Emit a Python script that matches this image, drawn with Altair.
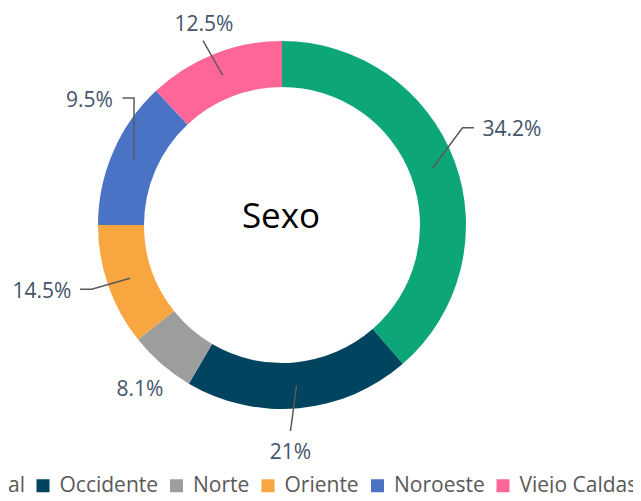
import altair as alt
import pandas as pd

# ---- data ----
regions = ["Central", "Occidente", "Norte", "Oriente", "Noroeste", "Viejo Caldas"]
# slice sizes as drawn in the picture (percent of the ring)
shares = [38.6, 19.85, 5.85, 10.7, 13.0, 12.0]
# label texts as printed on the chart
labels = ["34.2%", "21%", "8.1%", "14.5%", "9.5%", "12.5%"]
colors = ["#0CA678", "#00445F", "#9D9D9D", "#F8A640", "#4A73C6", "#FF6698"]

# ---- layout (Excel-style manual label placement, offsets from pie centre) ----
CX, CY = 274, 217
R_OUT, R_IN = 184, 138
label_dx = [230, 8.5, -142, -240, -192.5, -78]
label_dy = [-89, 234, 171, 73, -118, -194]
# leader polylines (offsets from pie centre), empty for no line
leaders = [
    [(150.5, -56.7), (180.5, -97.3), (192, -97.3)],
    [(14.5, 160.7), (8.5, 206)],
    [],
    [(-152, 53.3), (-190.3, 64.3), (-202, 64.3)],
    [(-148, -65), (-148, -127), (-159.5, -127)],
    [(-59.5, -150), (-79, -184.3)],
]

df = pd.DataFrame({"region": regions, "share": shares, "idx": range(len(regions))})

lab = pd.DataFrame({
    "label": labels,
    "lx": [CX + d for d in label_dx],
    "ly": [CY + d for d in label_dy],
})

rows = []
for i, pts in enumerate(leaders):
    for j, (dx, dy) in enumerate(pts):
        rows.append({"lid": i, "k": j, "px": CX + dx, "py": CY + dy})
lead = pd.DataFrame(rows)

arcs = alt.Chart(df).mark_arc(outerRadius=R_OUT, innerRadius=R_IN).encode(
    theta=alt.Theta("share:Q", stack=True),
    order=alt.Order("idx:Q"),
    color=alt.Color(
        "region:N",
        scale=alt.Scale(domain=regions, range=colors),
        sort=regions,
        legend=alt.Legend(
            orient="none", legendX=-81, legendY=467, direction="horizontal",
            title=None, symbolType="square", symbolSize=169, symbolStrokeWidth=0,
            labelFont="Open Sans", labelFontSize=21, labelColor="#595959",
            labelOffset=6, columnPadding=7.5, padding=0, labelLimit=300,
        ),
    ),
    x=alt.value(CX),
    y=alt.value(CY),
)

lines = alt.Chart(lead).mark_line(color="#595959", strokeWidth=1.5).encode(
    x=alt.X("px:Q", scale=None, axis=None),
    y=alt.Y("py:Q", scale=None, axis=None),
    detail="lid:N",
    order="k:Q",
)

texts = alt.Chart(lab).mark_text(
    font="Open Sans", fontSize=21, color="#44546A", align="center", baseline="alphabetic"
).encode(
    x=alt.X("lx:Q", scale=None, axis=None),
    y=alt.Y("ly:Q", scale=None, axis=None),
    text="label:N",
)

center = alt.Chart(pd.DataFrame({"t": ["Sexo"]})).mark_text(
    font="Open Sans", fontSize=35, color="#000000", align="center", baseline="alphabetic"
).encode(
    x=alt.value(CX - 1), y=alt.value(CY + 3), text="t:N"
)

chart = alt.layer(arcs, lines, texts, center).properties(
    width=625, height=485, padding=0,
    autosize=alt.AutoSizeParams(type="none"),
).configure_view(stroke=None)

chart.save("out.html", embed_options={"renderer": "svg", "actions": False})
